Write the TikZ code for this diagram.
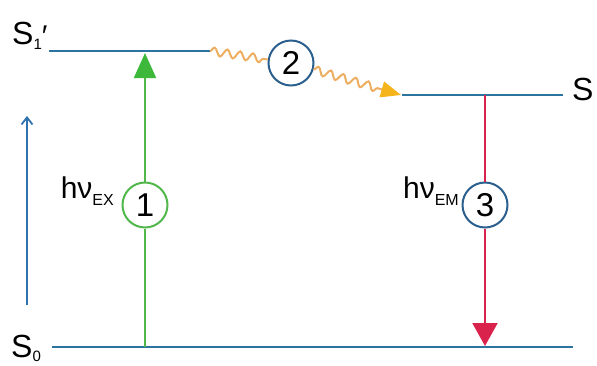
\documentclass[tikz,border=0pt]{standalone}
\usepackage{fontspec}
\setmainfont{Liberation Sans}
\usetikzlibrary{arrows.meta,decorations.pathmorphing}
\definecolor{levelblue}{HTML}{2B74A0}
\definecolor{exgreen}{HTML}{52B84C}
\definecolor{tipgreen}{HTML}{3DB83A}
\definecolor{emred}{HTML}{D9234D}
\definecolor{wavyorange}{HTML}{EDAE62}
\definecolor{tiporange}{HTML}{F4B41A}
\definecolor{circblue}{HTML}{2A5F8E}
\definecolor{axisblue}{HTML}{2F72AE}
\tikzset{
  level/.style={draw=levelblue, line width=2.8pt},
  numcirc/.style={circle, draw, fill=white, line width=2pt, minimum size=45pt, inner sep=0pt,
    font=\fontsize{33}{33}\selectfont},
  biglabel/.style={inner sep=0pt, font=\fontsize{32}{32}\selectfont},
  hvlabel/.style={inner sep=0pt, font=\fontsize{30}{30}\selectfont},
  wavy/.style={draw=wavyorange, line width=2pt, decorate,
    decoration={snake, amplitude=4pt, segment length=13pt}},
}
\newcommand{\subsc}[1]{\raisebox{-7pt}{\fontsize{16}{16}\selectfont #1}}
\begin{document}
\begin{tikzpicture}[x=1pt,y=-1pt]
\useasboundingbox (0,0) rectangle (597,365);
% energy levels
\coordinate (s1pL) at (49,51);
\coordinate (s1pR) at (210,51);
\coordinate (s1L) at (402,95);
\coordinate (s1R) at (563,95);
\coordinate (s0L) at (52,347);
\coordinate (s0R) at (573,347);
\draw[level] (s1pL) -- (s1pR);
\draw[level] (s1L) -- (s1R);
\draw[level] (s0L) -- (s0R);
% level labels
\node[biglabel, anchor=base west] (lS1p) at (12,44) {S\raisebox{-5pt}{\fontsize{15}{15}\selectfont 1}\raisebox{-2pt}{\fontsize{30}{30}\selectfont ′}};
\node[biglabel, anchor=base west] (lS1) at (572,100) {S};
\node[biglabel, anchor=base west] (lS0) at (11,357) {S\raisebox{-4pt}{\fontsize{15}{15}\selectfont 0}};
% circles
\node[numcirc, draw=exgreen] (c1) at (145,205) {1};
\node[numcirc, draw=circblue] (c2) at (291,63) {2};
\node[numcirc, draw=circblue] (c3) at (485,205) {3};
% excitation arrow
\coordinate (exBot) at (145,347);
\coordinate (exTop) at (145,53);
\draw[exgreen, line width=2pt] (exBot) -- (c1);
\draw[exgreen, line width=2pt, -{Triangle[length=25pt,width=22pt,color=tipgreen]}] (c1) -- (exTop);
% emission arrow
\coordinate (emTop) at (485,95);
\coordinate (emBot) at (485,346);
\draw[emred, line width=2pt] (emTop) -- (c3);
\draw[emred, line width=2pt, -{Triangle[length=23pt,width=25pt]}] (c3) -- (emBot);
% relaxation wavy arrow
\coordinate (wStart) at (210,51);
\coordinate (wEnd) at (401,95);
\draw[wavy] (wStart) -- (c2);
\draw[wavy, decoration={post length=18pt}, -{Triangle[length=20pt,width=16pt,color=tiporange]}] (c2) -- (wEnd);
% photon labels
\node[hvlabel, anchor=base east] (hex) at (114,198) {hν\subsc{EX}};
\node[hvlabel, anchor=base east] (hem) at (459,198) {hν\subsc{EM}};
% energy axis arrow
\coordinate (axBot) at (27,305);
\coordinate (axTop) at (27,116);
\draw[axisblue, line width=1.8pt, -{Straight Barb[length=7pt,width=11pt]}] (axBot) -- (axTop);
\end{tikzpicture}
\end{document}
